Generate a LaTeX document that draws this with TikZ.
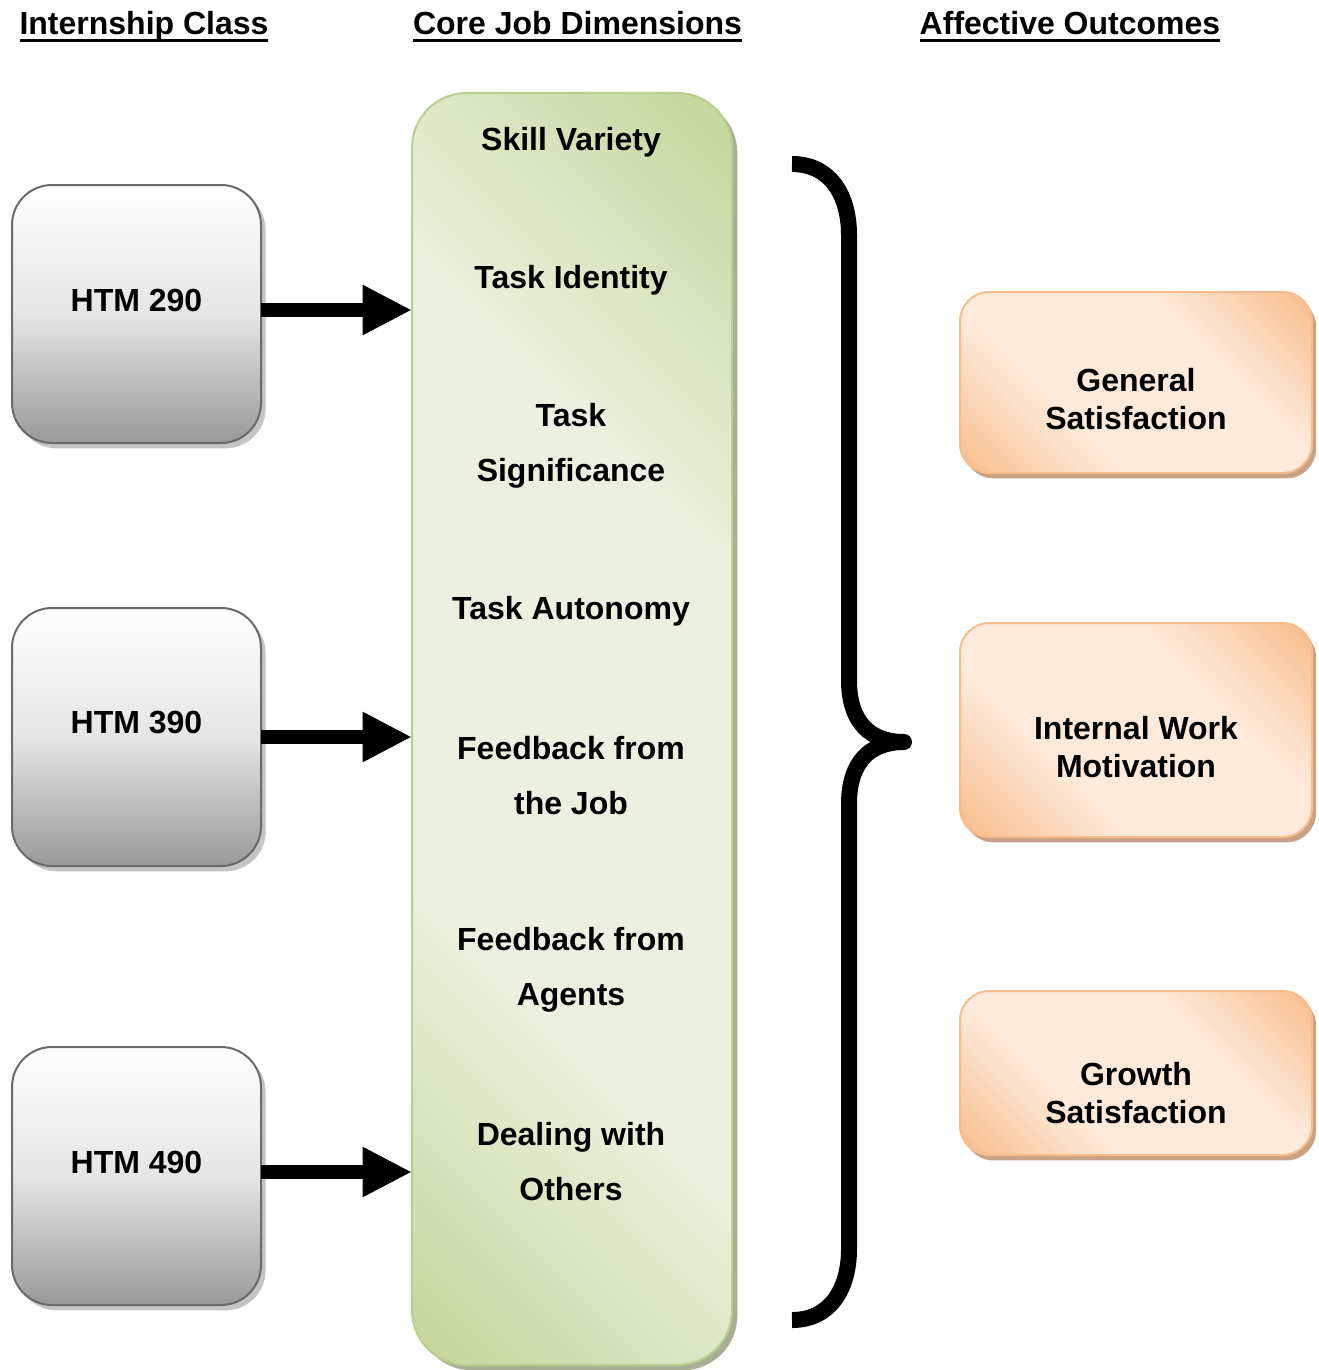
\documentclass[tikz,border=0pt]{standalone}
\usepackage{fontspec}
\setmainfont{Liberation Sans}
\usetikzlibrary{arrows.meta,shadows,calc}
\definecolor{glight}{HTML}{EBF1DE}
\definecolor{gdark}{HTML}{C3D69B}
\definecolor{gborder}{HTML}{B9CF8E}
\definecolor{gshadow}{HTML}{A8AF94}
\definecolor{olight}{HTML}{FDEADA}
\definecolor{odark}{HTML}{F9BD8B}
\definecolor{oborder}{HTML}{F8BC8C}
\definecolor{oshadow}{HTML}{C9A286}
\definecolor{grayborder}{HTML}{6A6A6A}
\definecolor{grayshadow}{HTML}{C4C4C4}
\pgfdeclarehorizontalshading{gshade}{100bp}{color(0bp)=(gdark); color(15bp)=(gdark); color(36bp)=(glight); color(64bp)=(glight); color(85bp)=(gdark); color(100bp)=(gdark)}
\pgfdeclarehorizontalshading{oshade}{100bp}{color(0bp)=(odark); color(15bp)=(odark); color(36bp)=(olight); color(64bp)=(olight); color(85bp)=(odark); color(100bp)=(odark)}
\newcommand\hdrline[1]{\setbox0\hbox{#1}\rlap{\rule[-5pt]{\wd0}{2.2pt}}\box0}
\begin{document}
\begin{tikzpicture}[x=0.75pt,y=-0.75pt,
  every node/.style={font=\fontsize{24pt}{28.5pt}\selectfont\bfseries, outer sep=0pt, inner sep=0pt},
  header/.style={anchor=base},
  classbox/.style={draw=grayborder, line width=1.5pt, rounded corners=30pt,
    minimum width=186.75pt, minimum height=193.5pt,
    top color=white, bottom color=black!40, middle color=black!10,
    drop shadow={shadow xshift=3.5pt, shadow yshift=-4pt, fill=grayshadow, opacity=1}},
  corebox/.style={draw=gborder, line width=1.5pt, rounded corners=41pt,
    minimum width=240pt, minimum height=954pt,
    shading=gshade, shading angle=45,
    drop shadow={shadow xshift=4pt, shadow yshift=-4pt, fill=gshadow, opacity=1}},
  outbox/.style={draw=oborder, line width=1.5pt, rounded corners=22pt,
    minimum width=264pt,
    shading=oshade, shading angle=45,
    drop shadow={shadow xshift=3pt, shadow yshift=-4pt, fill=oshadow, opacity=1}},
  item/.style={align=center, font=\fontsize{24pt}{41.25pt}\selectfont\bfseries},
  outtext/.style={align=center, font=\fontsize{24pt}{28.5pt}\selectfont\bfseries},
  bigarrow/.style={line width=10.5pt, -{Triangle[length=37pt, width=35pt]}},
  brace/.style={line width=12pt, line join=round, line cap=butt}
]
\useasboundingbox (0,0) rectangle (1318,1370);

% headers
\node[header] (h1) at (144,35) {\hdrline{Internship Class}};
\node[header] (h2) at (577.5,35) {\hdrline{Core Job Dimensions}};
\node[header] (h3) at (1070,35) {\hdrline{Affective Outcomes}};

% class boxes
\node[classbox] (c1) at (136.5,314) {};
\node[classbox] (c2) at (136.5,737) {};
\node[classbox] (c3) at (136.5,1176) {};
\node (c1t) at (136.5,300) {HTM 290};
\node (c2t) at (136.5,722) {HTM 390};
\node (c3t) at (136.5,1162) {HTM 490};

% core dimensions box
\node[corebox] (core) at (572,729) {};
\node[item] (d1) at (571,142) {Skill Variety};
\node[item] (d2) at (571,280) {Task Identity};
\node[item] (d3) at (571,445.5) {Task\\Significance};
\node[item] (d4) at (571,611) {Task Autonomy};
\node[item] (d5) at (571,776) {Feedback from\\the Job};
\node[item] (d6) at (571,969.5) {Feedback from\\Agents};
\node[item] (d7) at (571,1162) {Dealing with\\Others};

% arrows
\draw[bigarrow] ([yshift=3pt]c1.east) -- ([yshift=3pt]c1.east -| core.west);
\draw[bigarrow] (c2.east) -- (c2.east -| core.west);
\draw[bigarrow] ([yshift=3pt]c3.east) -- ([yshift=3pt]c3.east -| core.west);

% brace
\coordinate (btop) at (792,164);
\coordinate (btip) at (904,742);
\coordinate (bbot) at (792,1320);
\draw[brace] (btop) .. controls (830,164) and (849,195) .. (849,235)
  -- (849,680) .. controls (849,722) and (870,742) .. (btip)
  .. controls (870,742) and (849,762) .. (849,804)
  -- (849,1249) .. controls (849,1289) and (830,1320) .. (bbot);

% outcome boxes
\node[outbox, minimum height=135.75pt] (o1) at (1136,382.5) {};
\node[outbox, minimum height=160.5pt] (o2) at (1136,730) {};
\node[outbox, minimum height=123pt] (o3) at (1136,1073) {};
\node[outtext] (o1t) at (1136,399) {General\\Satisfaction};
\node[outtext] (o2t) at (1136,747) {Internal Work\\Motivation};
\node[outtext] (o3t) at (1136,1093.5) {Growth\\Satisfaction};
\end{tikzpicture}
\end{document}
